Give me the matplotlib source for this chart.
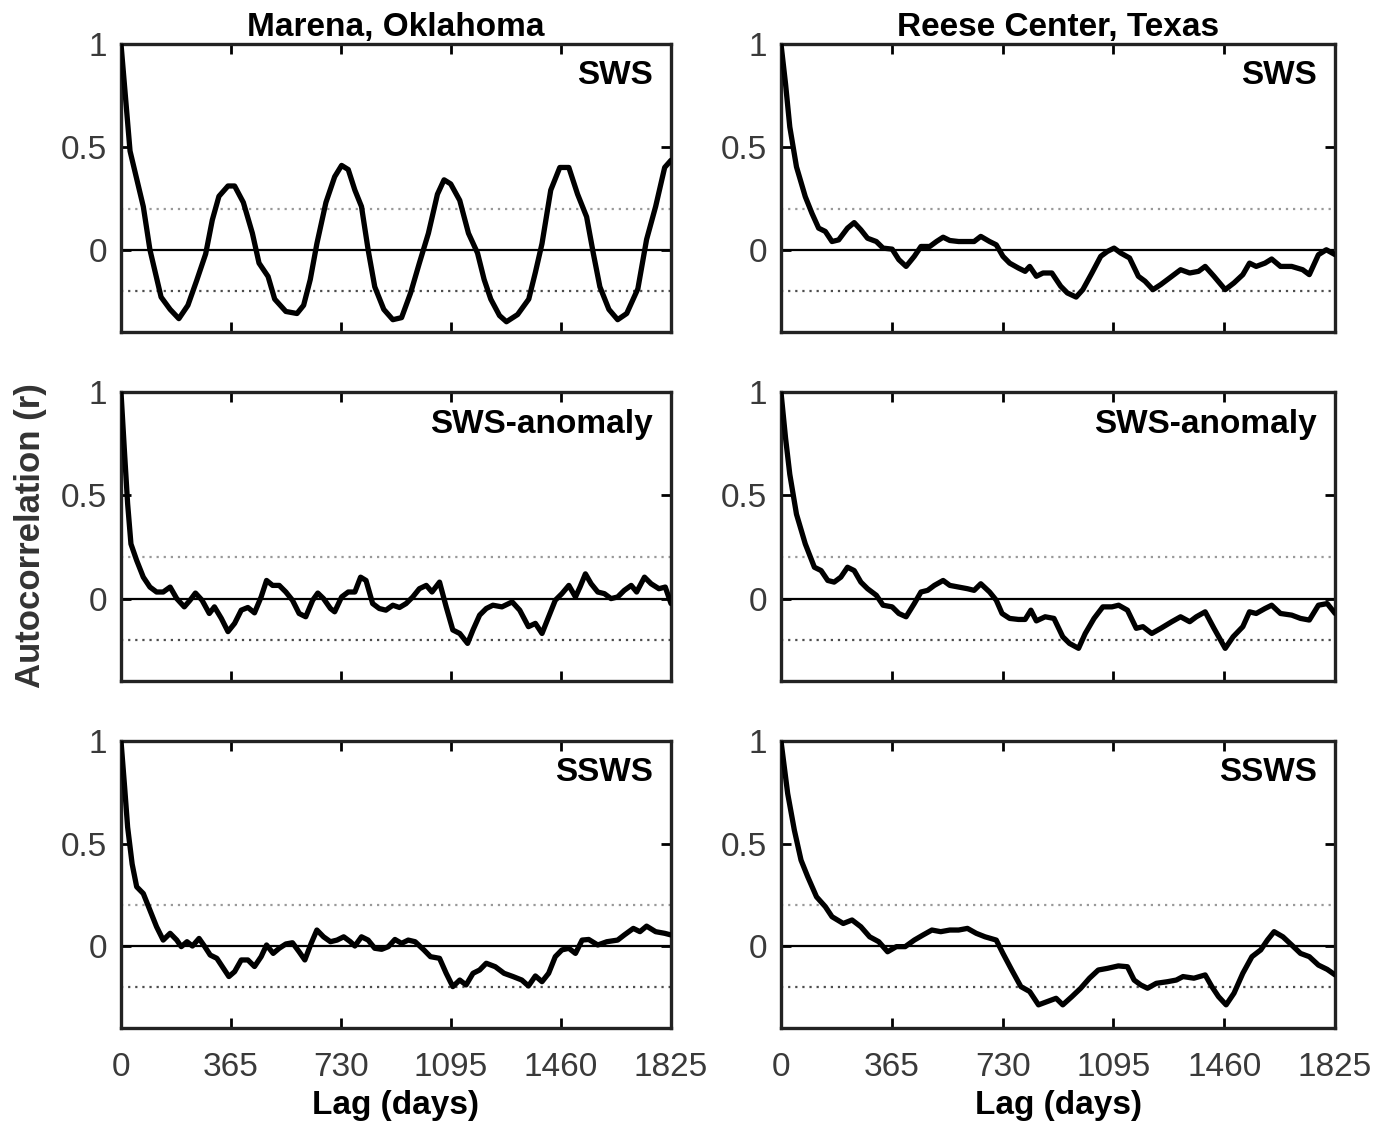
# ===============================
# IMPORT LIBRARIES
# ===============================
import matplotlib
matplotlib.use("Agg")
import matplotlib.pyplot as plt
from matplotlib import font_manager

# ===============================
# DATA
# ===============================
sites = ["Marena, Oklahoma", "Reese Center, Texas"]
variables = ["SWS", "SWS-anomaly", "SSWS"]
lag_ticks = [0, 365, 730, 1095, 1460, 1825]
r_ticks = [0, 0.5, 1]
r_tick_labels = ["0", "0.5", "1"]
sig_level = 0.2

# Marena, Oklahoma
mar_sws_lag = [0, 30, 74, 96, 133, 163, 192, 222, 251, 281, 303, 325, 355, 377, 406, 436,
               458, 488, 510, 547, 584, 606, 628, 650, 680, 709, 732, 754, 776, 798, 820,
               842, 872, 902, 931, 961, 990, 1020, 1050, 1072, 1094, 1124, 1153, 1183, 1205,
               1227, 1256, 1279, 1316, 1353, 1375, 1397, 1426, 1456, 1486, 1515, 1545, 1567,
               1589, 1619, 1648, 1678, 1715, 1744, 1774, 1804, 1825]
mar_sws_r = [1.0, 0.48, 0.21, 0.0, -0.23, -0.29, -0.335, -0.27, -0.15, -0.02, 0.145, 0.26,
             0.31, 0.31, 0.23, 0.08, -0.065, -0.13, -0.24, -0.30, -0.31, -0.27, -0.145, 0.03,
             0.23, 0.355, 0.41, 0.39, 0.29, 0.21, 0.0, -0.18, -0.29, -0.34, -0.33, -0.21,
             -0.065, 0.08, 0.27, 0.34, 0.32, 0.24, 0.08, -0.016, -0.145, -0.24, -0.32, -0.35,
             -0.315, -0.24, -0.11, 0.03, 0.29, 0.40, 0.40, 0.27, 0.16, -0.016, -0.18, -0.29,
             -0.34, -0.31, -0.19, 0.05, 0.21, 0.40, 0.435]

mar_anom_lag = [0, 12, 22, 33, 52, 74, 96, 118, 140, 163, 185, 210, 229, 247, 269, 293, 310,
                333, 355, 377, 399, 421, 443, 465, 483, 503, 525, 547, 569, 591, 613, 636,
                653, 672, 695, 709, 732, 754, 776, 795, 813, 835, 857, 879, 902, 924, 946,
                968, 990, 1013, 1032, 1057, 1079, 1101, 1124, 1150, 1168, 1190, 1212, 1234,
                1264, 1298, 1323, 1352, 1375, 1397, 1419, 1441, 1463, 1486, 1508, 1523, 1541,
                1560, 1582, 1604, 1626, 1648, 1670, 1693, 1711, 1737, 1759, 1785, 1806, 1825]
mar_anom_r = [1.0, 0.70, 0.46, 0.265, 0.185, 0.104, 0.056, 0.032, 0.032, 0.056, 0.0, -0.04,
              -0.008, 0.027, -0.008, -0.072, -0.04, -0.096, -0.16, -0.12, -0.056, -0.043,
              -0.069, 0.008, 0.088, 0.064, 0.064, 0.032, -0.008, -0.072, -0.088, -0.008,
              0.027, 0.0, -0.048, -0.064, 0.008, 0.032, 0.032, 0.104, 0.088, -0.024, -0.048,
              -0.056, -0.032, -0.043, -0.024, 0.008, 0.048, 0.064, 0.032, 0.08, -0.04, -0.152,
              -0.169, -0.217, -0.152, -0.08, -0.048, -0.032, -0.04, -0.016, -0.056, -0.136,
              -0.12, -0.169, -0.088, -0.008, 0.024, 0.064, 0.008, 0.056, 0.12, 0.072, 0.032,
              0.024, 0.0, 0.008, 0.04, 0.064, 0.032, 0.104, 0.072, 0.048, 0.056, -0.024]

mar_ssws_lag = [0, 12, 22, 37, 52, 74, 96, 118, 140, 163, 185, 200, 219, 237, 259, 278, 296,
                318, 340, 358, 377, 399, 421, 443, 465, 483, 505, 525, 547, 569, 591, 610,
                631, 650, 672, 695, 717, 739, 761, 776, 798, 820, 842, 865, 887, 909, 931,
                953, 976, 1005, 1027, 1057, 1079, 1101, 1124, 1145, 1168, 1190, 1212, 1242,
                1271, 1301, 1330, 1352, 1375, 1397, 1419, 1441, 1463, 1486, 1508, 1530, 1552,
                1582, 1612, 1648, 1670, 1700, 1722, 1744, 1774, 1804, 1825]
mar_ssws_r = [1.0, 0.776, 0.58, 0.40, 0.289, 0.256, 0.175, 0.094, 0.029, 0.062, 0.029, -0.003,
              0.021, 0.0, 0.037, -0.003, -0.044, -0.06, -0.109, -0.149, -0.125, -0.068, -0.068,
              -0.10, -0.052, 0.005, -0.036, -0.011, 0.01, 0.016, -0.028, -0.068, 0.013, 0.078,
              0.045, 0.021, 0.029, 0.045, 0.021, 0.0, 0.045, 0.029, -0.011, -0.016, -0.003,
              0.032, 0.013, 0.029, 0.021, -0.019, -0.052, -0.06, -0.133, -0.198, -0.166,
              -0.19, -0.133, -0.117, -0.084, -0.101, -0.133, -0.149, -0.166, -0.195, -0.146,
              -0.174, -0.133, -0.052, -0.019, -0.011, -0.036, 0.029, 0.032, 0.005, 0.021,
              0.029, 0.054, 0.086, 0.07, 0.097, 0.07, 0.062, 0.054]

# Reese Center, Texas
ree_sws_lag = [0, 15, 29, 51, 80, 102, 124, 146, 168, 190, 219, 241, 263, 285, 314, 336, 366,
               388, 412, 439, 461, 490, 512, 534, 556, 585, 614, 636, 658, 687, 709, 731, 753,
               782, 804, 819, 841, 863, 892, 921, 943, 972, 994, 1024, 1053, 1075, 1097, 1119,
               1148, 1177, 1199, 1225, 1251, 1280, 1316, 1346, 1375, 1397, 1426, 1463, 1492,
               1521, 1543, 1565, 1594, 1616, 1645, 1682, 1718, 1740, 1770, 1796, 1825]
ree_sws_r = [1.0, 0.806, 0.597, 0.403, 0.258, 0.177, 0.105, 0.089, 0.04, 0.048, 0.105, 0.132,
             0.097, 0.056, 0.04, 0.008, 0.003, -0.048, -0.081, -0.032, 0.016, 0.016, 0.04,
             0.061, 0.045, 0.04, 0.04, 0.04, 0.065, 0.04, 0.024, -0.032, -0.065, -0.089,
             -0.105, -0.081, -0.129, -0.113, -0.113, -0.177, -0.21, -0.23, -0.194, -0.113,
             -0.032, -0.008, 0.008, -0.016, -0.04, -0.129, -0.153, -0.194, -0.169, -0.137,
             -0.097, -0.113, -0.105, -0.081, -0.129, -0.194, -0.161, -0.121, -0.065, -0.081,
             -0.065, -0.045, -0.081, -0.081, -0.097, -0.121, -0.024, 0.0, -0.024]

ree_anom_lag = [0, 15, 29, 51, 80, 110, 132, 154, 175, 197, 219, 241, 263, 285, 314, 336, 366,
                388, 412, 439, 461, 483, 505, 534, 556, 585, 614, 636, 658, 687, 709, 728,
                753, 782, 804, 823, 841, 870, 899, 928, 950, 980, 1002, 1031, 1060, 1090,
                1112, 1141, 1170, 1192, 1221, 1251, 1287, 1316, 1346, 1368, 1397, 1426, 1463,
                1489, 1521, 1543, 1565, 1594, 1616, 1645, 1682, 1711, 1740, 1770, 1799, 1825]
ree_anom_r = [1.0, 0.778, 0.602, 0.409, 0.265, 0.152, 0.136, 0.088, 0.08, 0.104, 0.152, 0.136,
              0.08, 0.048, 0.016, -0.032, -0.04, -0.072, -0.088, -0.024, 0.032, 0.04, 0.064,
              0.088, 0.064, 0.056, 0.048, 0.04, 0.072, 0.032, -0.008, -0.072, -0.096, -0.101,
              -0.101, -0.056, -0.108, -0.088, -0.096, -0.185, -0.217, -0.241, -0.169, -0.096,
              -0.04, -0.04, -0.032, -0.056, -0.144, -0.136, -0.169, -0.144, -0.112, -0.088,
              -0.112, -0.088, -0.064, -0.144, -0.241, -0.185, -0.136, -0.064, -0.072, -0.048,
              -0.032, -0.072, -0.08, -0.096, -0.104, -0.032, -0.024, -0.072]

ree_ssws_lag = [0, 22, 44, 66, 88, 117, 146, 168, 205, 234, 263, 292, 322, 351, 380, 409, 439,
                468, 497, 526, 556, 585, 614, 643, 672, 709, 731, 760, 790, 819, 848, 877,
                906, 928, 958, 987, 1016, 1045, 1075, 1111, 1141, 1163, 1185, 1207, 1236,
                1273, 1302, 1324, 1360, 1397, 1419, 1441, 1466, 1492, 1521, 1551, 1580, 1602,
                1624, 1653, 1682, 1711, 1740, 1770, 1799, 1825]
ree_ssws_r = [1.0, 0.744, 0.565, 0.419, 0.338, 0.24, 0.192, 0.143, 0.11, 0.127, 0.094, 0.045,
              0.021, -0.028, -0.003, -0.003, 0.029, 0.054, 0.078, 0.07, 0.078, 0.078, 0.086,
              0.062, 0.045, 0.029, -0.036, -0.117, -0.198, -0.222, -0.287, -0.271, -0.255,
              -0.287, -0.247, -0.206, -0.157, -0.117, -0.109, -0.097, -0.101, -0.166, -0.19,
              -0.206, -0.182, -0.174, -0.166, -0.149, -0.157, -0.141, -0.198, -0.247, -0.287,
              -0.23, -0.133, -0.052, -0.019, 0.029, 0.07, 0.045, 0.005, -0.036, -0.052,
              -0.093, -0.114, -0.141]

series = [
    [(mar_sws_lag, mar_sws_r), (ree_sws_lag, ree_sws_r)],
    [(mar_anom_lag, mar_anom_r), (ree_anom_lag, ree_anom_r)],
    [(mar_ssws_lag, mar_ssws_r), (ree_ssws_lag, ree_ssws_r)],
]

# ===============================
# FONTS
# ===============================
installed = {f.name for f in font_manager.fontManager.ttflist}
narrow = "Liberation Sans Narrow" if "Liberation Sans Narrow" in installed else "Liberation Sans"
plt.rcParams["font.family"] = [narrow, "DejaVu Sans"]
fs = 28 if narrow == "Liberation Sans Narrow" else 24

# ===============================
# FIGURE
# ===============================
fig = plt.figure(figsize=(13.75, 11.24), dpi=100)

col_x = [0.088, 0.568]
col_w = [0.400, 0.403]
row_y = [0.7046, 0.394, 0.0854]
row_h = [0.2562, 0.257, 0.2553]

for i in range(3):
    for j in range(2):
        ax = fig.add_axes([col_x[j], row_y[i], col_w[j], row_h[i]])
        lag, r = series[i][j]

        ax.axhline(sig_level, color="0.6", lw=1.6, ls=(0, (1, 2.2)), zorder=1)
        ax.axhline(-sig_level, color="0.3", lw=1.6, ls=(0, (1, 2.2)), zorder=1)
        ax.axhline(0, color="black", lw=1.6, zorder=2)
        ax.plot(lag, r, color="black", lw=3.8, solid_joinstyle="round",
                solid_capstyle="round", zorder=3)

        ax.set_xlim(0, 1825)
        ax.set_ylim(-0.4, 1)
        ax.set_xticks(lag_ticks)
        ax.set_yticks(r_ticks)
        ax.set_yticklabels(r_tick_labels)
        ax.tick_params(direction="in", top=True, right=True, length=7, width=2,
                       labelsize=fs, labelcolor="#3a3a3a", pad=10)
        ax.tick_params(axis="x", pad=17)
        if i < 2:
            ax.set_xticklabels([])
        else:
            ax.set_xlabel("Lag (days)", fontsize=fs, fontweight="bold", labelpad=5)
        for s in ax.spines.values():
            s.set_linewidth(2.4)
            s.set_color("#222222")

        ax.text(0.967, 0.89, variables[i], transform=ax.transAxes, ha="right",
                va="center", fontsize=fs, fontweight="bold")
        if i == 0:
            ax.set_title(sites[j], fontsize=fs, fontweight="bold", pad=6)

fig.text(0.022, 1 - 536 / 1124, "Autocorrelation (r)", rotation=90, ha="center",
         va="center", fontsize=25, fontweight="bold", color="#333333",
         family=["Liberation Sans", "DejaVu Sans"])

fig.savefig("out.png", dpi=100)
